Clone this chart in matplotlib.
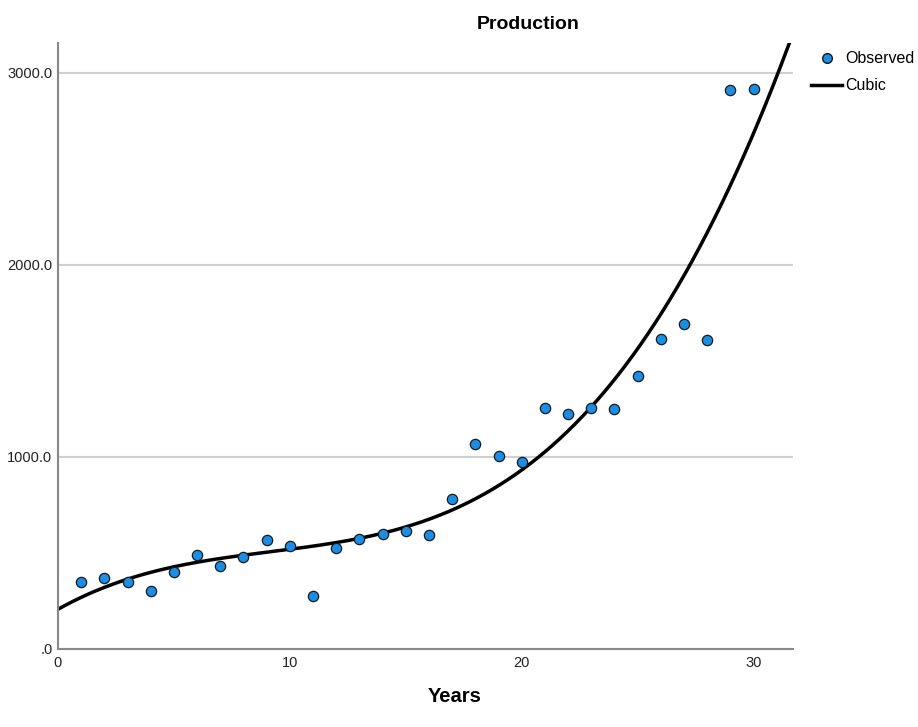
import numpy as np
import matplotlib.pyplot as plt
from matplotlib.lines import Line2D

plt.rcParams['font.family'] = ['Liberation Sans Narrow', 'Liberation Sans', 'DejaVu Sans']

# observed production by year
years = np.arange(1, 31)
production = [349, 370, 349, 302, 401, 490, 432, 479, 568, 536,
              276, 526, 573, 599, 615, 594, 781, 1068, 1005, 974,
              1255, 1224, 1255, 1250, 1422, 1615, 1693, 1609, 2911, 2917]

yticks = [0, 1000, 2000, 3000]
ytick_labels = ['.0', '1000.0', '2000.0', '3000.0']
xticks = [0, 10, 20, 30]

# cubic curve fit, like the SPSS curve estimation
coefs = np.polyfit(years, production, 3)
xs = np.linspace(0, 31.7, 300)
ys = np.polyval(coefs, xs)

fig = plt.figure(figsize=(9.18, 7.27), dpi=100)
ax = fig.add_axes([58/918, 1 - 649/727, (793-58)/918, (649-43)/727])

for y in yticks[1:]:
    ax.axhline(y, color='#d0d0d0', lw=1.5, zorder=0)

ax.plot(xs, ys, color='black', lw=2.5, zorder=2)
ax.scatter(years, production, s=55, color='#1a8ee6', edgecolors='#1a1a1a',
           linewidths=0.9, zorder=3)

ax.set_xlim(0, 31.7)
ax.set_ylim(0, 3156)
ax.set_xticks(xticks)
ax.set_yticks(yticks)
ax.set_yticklabels(ytick_labels)
ax.tick_params(length=0, labelsize=10.5, colors='#222222', pad=4)
ax.tick_params(axis='x', pad=5)

for s in ['top', 'right']:
    ax.spines[s].set_visible(False)
for s in ['left', 'bottom']:
    ax.spines[s].set_color('#888888')
    ax.spines[s].set_linewidth(1.5)

ax.set_title('Production', fontsize=14, fontweight='bold', pad=10, x=0.64)
ax.set_xlabel('Years', fontsize=14.5, fontweight='bold', labelpad=12, x=0.539)

handles = [Line2D([], [], marker='o', ls='none', markersize=7,
                  markerfacecolor='#1a8ee6', markeredgecolor='#1a1a1a', label='Observed'),
           Line2D([], [], color='black', lw=2.5, label='Cubic')]
fig.legend(handles=handles, loc='upper left', bbox_to_anchor=(805/918, 1 - 45/727),
           frameon=False, fontsize=11.5, handlelength=1.9, handletextpad=0.2,
           labelspacing=0.75, borderaxespad=0)

fig.savefig('out.png', dpi=100)
